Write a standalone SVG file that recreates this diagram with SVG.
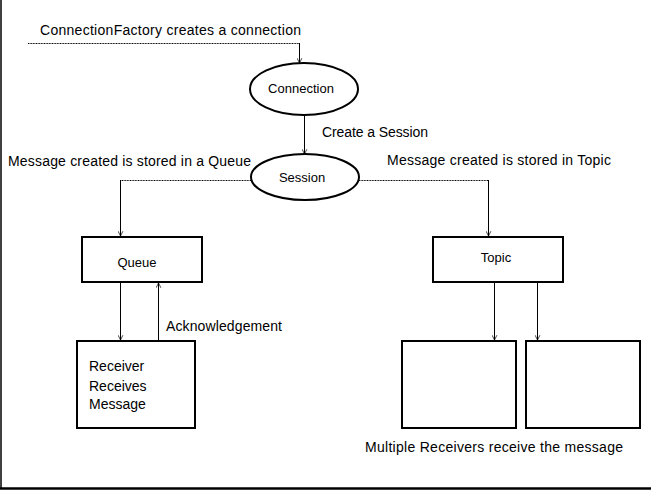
<svg xmlns="http://www.w3.org/2000/svg" width="651" height="491" viewBox="0 0 651 491">
<defs>
<marker id="arr" viewBox="0 0 10 10" refX="9" refY="5" markerWidth="6" markerHeight="6" markerUnits="userSpaceOnUse" orient="auto">
<path d="M1,1 L9,5 L1,9" fill="none" stroke="#000" stroke-width="1.2"/>
</marker>
<style>
.t{font-family:"Liberation Sans",Arial,sans-serif;font-size:14px;fill:#000}
.n{font-family:"Liberation Sans",Arial,sans-serif;font-size:13px;fill:#000}
.box{fill:#fff;stroke:#000;stroke-width:2}
.c{fill:none;stroke:#000;stroke-width:1}
.h{fill:none;stroke:#000;stroke-width:1;stroke-dasharray:1 0.6}
</style>
</defs>
<rect width="651" height="491" fill="#fff"/>
<line x1="1" y1="0" x2="1" y2="489" stroke="#000" stroke-width="1.5"/>
<line x1="0" y1="488.5" x2="651" y2="488.5" stroke="#000" stroke-width="2.5"/>

<g id="connectors">
<line class="h" x1="28" y1="43.5" x2="299.5" y2="43.5"/>
<line class="c" x1="299.5" y1="43" x2="299.5" y2="63" marker-end="url(#arr)"/>
<line class="c" x1="304.5" y1="115" x2="304.5" y2="154" marker-end="url(#arr)"/>
<line class="h" x1="251" y1="180.5" x2="120.5" y2="180.5"/>
<line class="c" x1="120.5" y1="180" x2="120.5" y2="236" marker-end="url(#arr)"/>
<line class="h" x1="359" y1="180.5" x2="488.5" y2="180.5"/>
<line class="c" x1="488.5" y1="180" x2="488.5" y2="236" marker-end="url(#arr)"/>
<line class="c" x1="120.5" y1="283" x2="120.5" y2="340" marker-end="url(#arr)"/>
<line class="c" x1="158.5" y1="340" x2="158.5" y2="283" marker-end="url(#arr)"/>
<line class="c" x1="494.5" y1="283" x2="494.5" y2="340" marker-end="url(#arr)"/>
<line class="c" x1="537.5" y1="283" x2="537.5" y2="340" marker-end="url(#arr)"/>
</g>

<g id="connection">
<ellipse class="box" cx="304" cy="89" rx="54" ry="26"/>
<text class="n" x="301" y="93" text-anchor="middle">Connection</text>
</g>
<g id="session">
<ellipse class="box" cx="305" cy="177" rx="54" ry="23"/>
<text class="n" x="302" y="182" text-anchor="middle">Session</text>
</g>
<g id="queue">
<rect class="box" x="82" y="237" width="120" height="45"/>
<text class="n" x="137" y="267" text-anchor="middle">Queue</text>
</g>
<g id="receiver">
<rect class="box" x="77" y="341" width="118" height="87"/>
<text class="t" x="89" y="371">Receiver</text>
<text class="t" x="89" y="391">Receives</text>
<text class="t" x="89" y="409">Message</text>
</g>
<g id="topic">
<rect class="box" x="433" y="237" width="130" height="45"/>
<text class="n" x="496" y="262" text-anchor="middle">Topic</text>
</g>
<g id="receiver1">
<rect class="box" x="402" y="341" width="114" height="87"/>
</g>
<g id="receiver2">
<rect class="box" x="526" y="341" width="114" height="87"/>
</g>

<g id="labels">
<text class="t" x="40" y="35" textLength="261">ConnectionFactory  creates a connection</text>
<text class="t" x="322" y="137" textLength="106">Create a Session</text>
<text class="t" x="8" y="166" textLength="243">Message created is stored in a Queue</text>
<text class="t" x="387" y="165" textLength="224">Message created is stored in Topic</text>
<text class="t" x="166" y="331" textLength="116">Acknowledgement</text>
<text class="t" x="365" y="452" textLength="258">Multiple Receivers receive the  message</text>
</g>
</svg>
